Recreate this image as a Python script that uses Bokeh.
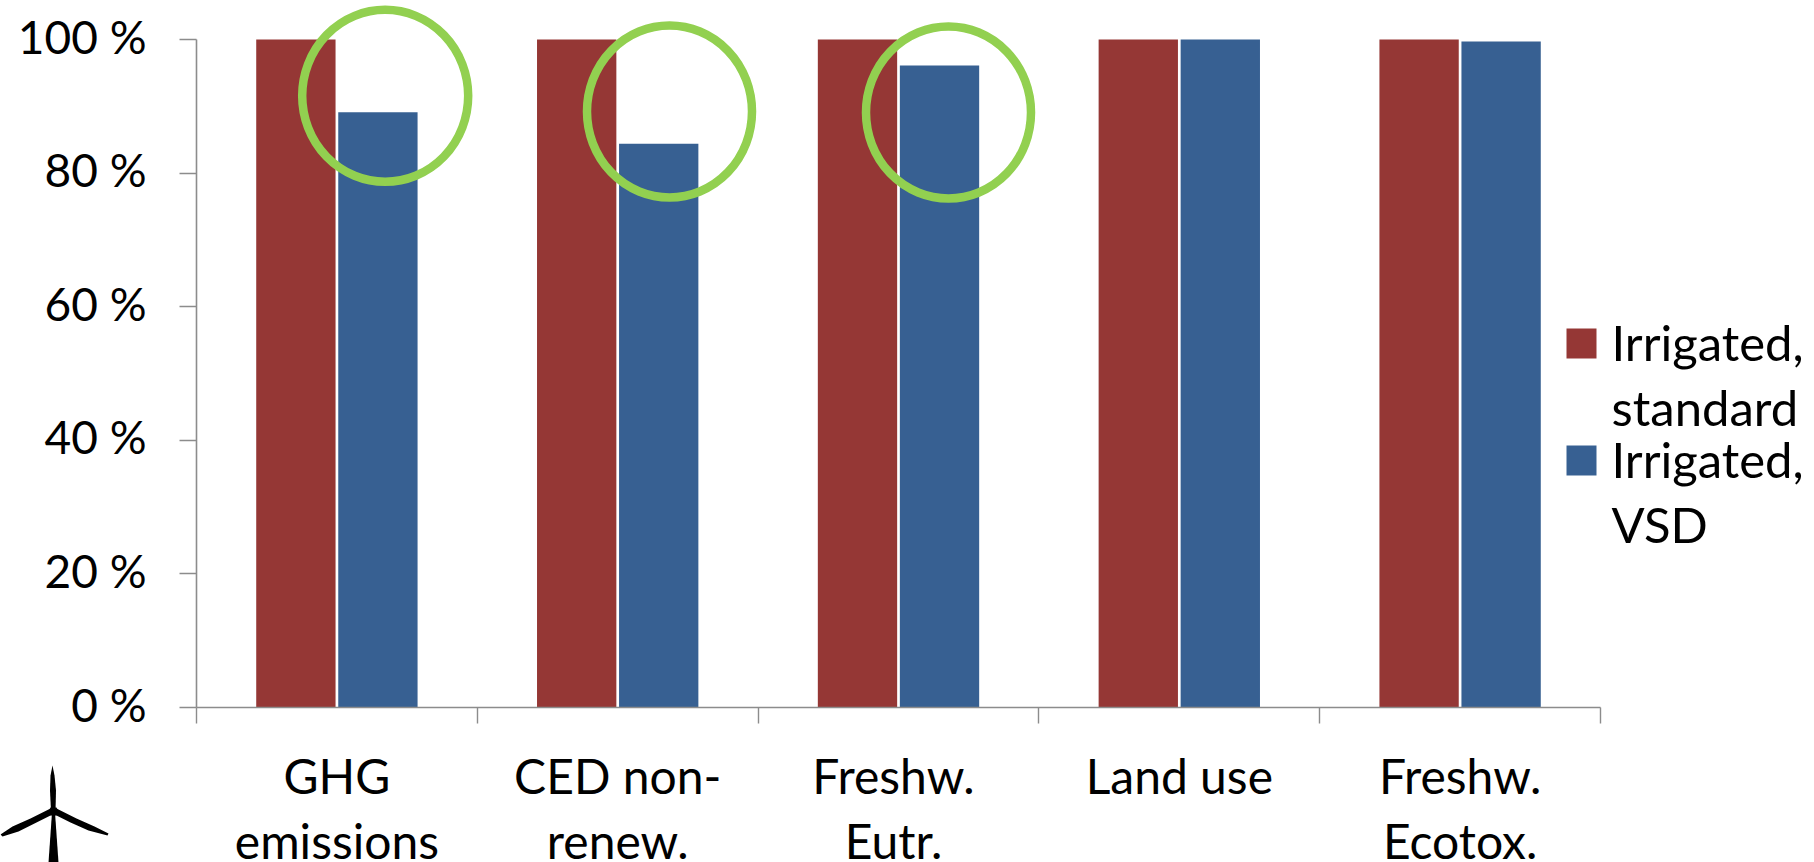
from bokeh.core.properties import value
from bokeh.embed import file_html
from bokeh.models import ColumnDataSource, FixedTicker, LinearAxis, Range1d
from bokeh.plotting import figure
from bokeh.resources import INLINE

categories = ["GHG emissions", "CED non-renew.", "Freshw. Eutr.", "Land use", "Freshw. Ecotox."]
category_lines = [["GHG", "emissions"], ["CED non-", "renew."], ["Freshw.", "Eutr."],
                  ["Land use"], ["Freshw.", "Ecotox."]]
category_nudge = [0, 0, -5, 0, 0]
standard = [100, 100, 100, 100, 100]
vsd = [89.1, 84.4, 96.1, 100, 99.7]
y_ticks = [0, 20, 40, 60, 80, 100]
legend_lines = ["Irrigated,", "standard", "Irrigated,", "VSD"]

RED = "#953735"
BLUE = "#376092"
GREEN = "#92D050"
GREY = "#8C8C8C"
FONT = value("Lato")

WIDTH, HEIGHT = 1814, 862
PX_PER_PCT = 6.68
PX_PER_CAT = 280.8
ORIGIN_X, ORIGIN_Y = 196, 707
# Distance between the requested and the drawn baseline of a text glyph at this size.
BASELINE_SHIFT = 17


def dx(px):
    return (px - ORIGIN_X) / PX_PER_CAT


def dy(px):
    return (ORIGIN_Y - px) / PX_PER_PCT


# The plot area fills the page; the axes are pinned to the data origin inside it.
p = figure(width=WIDTH, height=HEIGHT, output_backend="svg", toolbar_location=None,
           x_range=Range1d(dx(0), dx(WIDTH)), y_range=Range1d(dy(HEIGHT), dy(0)),
           min_border=0, x_axis_location=None, y_axis_location=None)
p.outline_line_color = None
p.grid.visible = False

# Bars sit either side of each category centre with a hairline gap.
BAR_W = 0.2825
GAP = 0.0096
xs = [i + 0.5 for i in range(len(categories))]
bars = ColumnDataSource(dict(x1=[x - (BAR_W + GAP) / 2 for x in xs],
                             x2=[x + (BAR_W + GAP) / 2 for x in xs],
                             standard=standard, vsd=vsd))
p.vbar(x="x1", top="standard", width=BAR_W, bottom=0, fill_color=RED, line_color=None, source=bars)
p.vbar(x="x2", top="vsd", width=BAR_W, bottom=0, fill_color=BLUE, line_color=None, source=bars)

# Axes: ticks only; labels are placed as text so they can be centred on the digits.
axis_style = dict(major_tick_in=0, minor_tick_line_color=None, axis_line_color=GREY,
                  major_tick_line_color=GREY, axis_line_width=1.6, major_tick_line_width=1.4)
xaxis = LinearAxis(ticker=FixedTicker(ticks=list(range(6))), fixed_location=0, bounds=(0, 5),
                   major_label_overrides={i: "" for i in range(6)}, major_tick_out=16, **axis_style)
p.add_layout(xaxis, "below")
yaxis = LinearAxis(ticker=FixedTicker(ticks=y_ticks), fixed_location=0, bounds=(0, 100),
                   major_label_overrides={v: "" for v in y_ticks}, major_tick_out=17, **axis_style)
p.add_layout(yaxis, "left")

p.text(x=[0] * len(y_ticks), y=y_ticks, text=[f"{v} %" for v in y_ticks],
       x_offset=-50, y_offset=13.5 - BASELINE_SHIFT, text_align="right", text_baseline="alphabetic",
       text_color="black", text_font=FONT, text_font_size=value("46px"))

# Highlight rings around the categories with the largest reduction.
ring_x = [dx(384.7), dx(669), dx(948)]
ring_y = [dy(95.3), dy(111), dy(112)]
p.ellipse(x=ring_x, y=ring_y, width=[166, 165, 165], height=[172, 172, 172],
          width_units="screen", height_units="screen",
          fill_color=None, line_color=GREEN, line_width=8.5)

# Category labels, one row per text line.
cat_x, cat_text, cat_off, cat_shift = [], [], [], []
for x, lines, nudge in zip(xs, category_lines, category_nudge):
    for n, line in enumerate(lines):
        cat_x.append(x)
        cat_text.append(line)
        cat_off.append(85 + 65 * n - BASELINE_SHIFT)
        cat_shift.append(nudge)
p.text(x=cat_x, y=[0] * len(cat_x), text=cat_text, x_offset=cat_shift, y_offset=cat_off,
       text_align="center", text_baseline="alphabetic", text_color="black",
       text_font=FONT, text_font_size=value("48px"))

# Legend swatches and their wrapped labels.
p.rect(x=[dx(1581)] * 2, y=[dy(343), dy(460)], width=30, height=30,
       width_units="screen", height_units="screen",
       fill_color=[RED, BLUE], line_color=None)
baselines = [358, 423, 475, 540]
p.text(x=[dx(1611)] * 4, y=[dy(b - BASELINE_SHIFT) for b in baselines], text=legend_lines,
       text_align="left", text_baseline="alphabetic", text_color="black",
       text_font=FONT, text_font_size=value("49px"))

# Small wind-turbine pictogram in the lower left corner.
turbine = [
    [(50.5, 811), (49.5, 790), (50, 775), (52, 765), (54, 775), (55.5, 790), (55, 811)],
    [(50, 808), (30, 818), (12, 826), (0, 834), (2, 836), (18, 831), (36, 822), (52, 814)],
    [(56, 808), (76, 818), (94, 826), (108, 833), (107, 835), (88, 830), (70, 822), (54, 814)],
    [(51.5, 812), (48, 862), (58, 862), (54.5, 812)],
    [(48, 811), (50, 807), (56, 807), (58, 811), (56, 815), (50, 815)],
]
p.patches(xs=[[dx(a) for a, _ in poly] for poly in turbine],
          ys=[[dy(b) for _, b in poly] for poly in turbine],
          fill_color="black", line_color=None)

open("out.html", "w").write(file_html(p, INLINE))
